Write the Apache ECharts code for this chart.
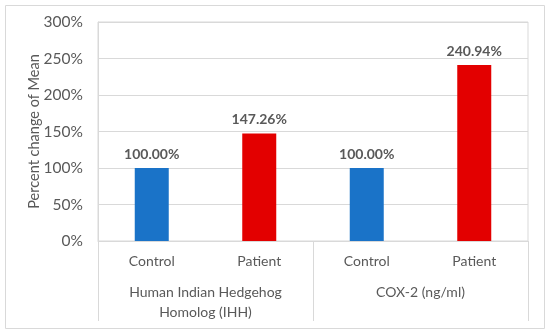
<!DOCTYPE html>
<html><head><meta charset="utf-8">
<script src="https://cdn.jsdelivr.net/npm/echarts@6/dist/echarts.min.js"></script>
<style>html,body{margin:0;padding:0;background:#fff}#c{width:550px;height:334px}</style>
</head><body><div id="c"></div>
<script>
var categories = ['Control', 'Patient', 'Control', 'Patient'];
var groups = ['Human Indian Hedgehog\nHomolog (IHH)', 'COX-2 (ng/ml)'];
var values = [100.00, 147.26, 100.00, 240.94];
var barColors = ['#1A73C8', '#E30000', '#1A73C8', '#E30000'];
var yTicks = [0, 50, 100, 150, 200, 250, 300];
var yTitle = 'Percent change of Mean';

var FONT = 'Lato';
var GRAY = '#595959';
var LINE = '#d9d9d9';

var chart = echarts.init(document.getElementById('c'), null, {renderer: 'canvas'});
chart.setOption({
  animation: false,
  textStyle: {fontFamily: FONT},
  graphic: [{type: 'rect', shape: {x: 5.5, y: 5.5, width: 539, height: 323}, style: {fill: 'none', stroke: LINE, lineWidth: 1}, z: -1}],
  grid: {left: 98, right: 22, top: 22, bottom: 93, show: true, borderColor: LINE, borderWidth: 1},
  xAxis: [{
    type: 'category', data: categories, position: 'bottom',
    axisLine: {show: true, lineStyle: {color: LINE}},
    axisTick: {show: false},
    axisLabel: {color: GRAY, fontSize: 14, margin: 13, fontFamily: FONT}
  }, {
    type: 'category', data: groups, position: 'bottom',
    axisLine: {show: false},
    axisTick: {show: true, length: 80, interval: 0, lineStyle: {color: LINE}},
    axisLabel: {color: GRAY, fontSize: 14, margin: 41, lineHeight: 20, fontFamily: FONT, verticalAlign: 'top'}
  }],
  yAxis: {
    type: 'value', min: yTicks[0], max: yTicks[yTicks.length - 1], interval: 50,
    name: yTitle, nameLocation: 'middle', nameRotate: 90, nameGap: 56,
    nameTextStyle: {color: GRAY, fontSize: 14.5, fontFamily: FONT},
    nameMoveOverlap: false,
    axisLine: {show: true, lineStyle: {color: LINE}},
    axisTick: {show: false},
    splitLine: {lineStyle: {color: LINE}},
    axisLabel: {color: GRAY, fontSize: 15.5, margin: 15, fontFamily: FONT, formatter: function (v) { return v + '%'; }}
  },
  series: [{
    type: 'bar', xAxisIndex: 0, barWidth: 34,
    data: values.map(function (v, i) { return {value: v, itemStyle: {color: barColors[i]}}; }),
    label: {show: true, position: 'top', distance: 7, color: GRAY, fontSize: 14, fontWeight: 'bold', fontFamily: FONT,
      formatter: function (p) { return p.value.toFixed(2) + '%'; }}
  }]
});
</script></body></html>
